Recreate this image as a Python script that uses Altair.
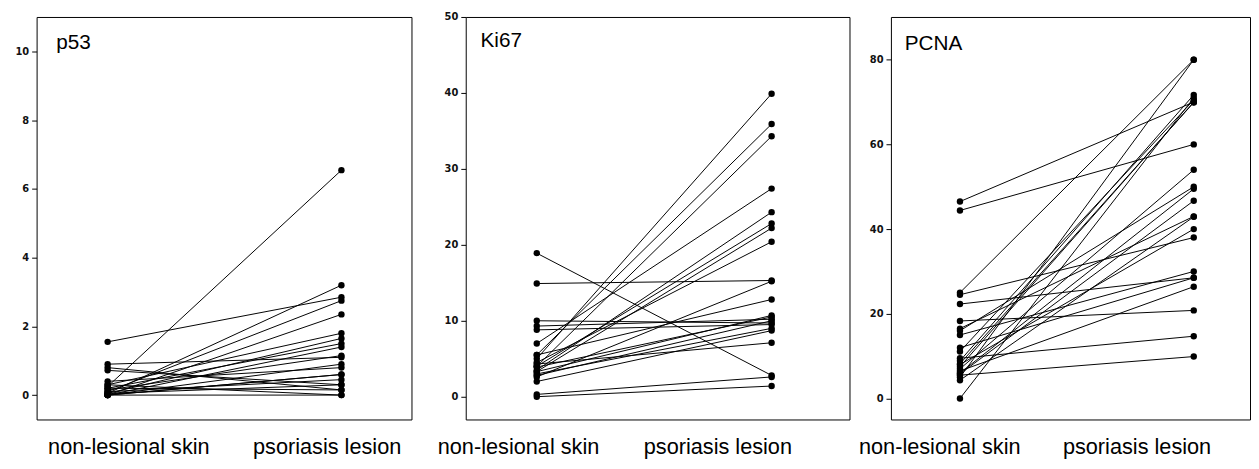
import altair as alt
import pandas as pd

groups = ["non-lesional skin", "psoriasis lesion"]

p53_nl = [1.55, 0.25, 0.9, 0.8, 0.72, 0.4, 0.3, 0.05, 0.1, 0.0, 0.05, 0.2, 0.0, 0.15, 0.0, 0.1, 0.0, 0.3, 0.05, 0.0, 0.2, 0.0]
p53_ls = [2.85, 6.55, 1.1, 0.15, 0.3, 0.8, 1.8, 3.2, 2.75, 2.35, 1.65, 1.5, 1.4, 1.15, 0.6, 0.45, 0.0, 0.0, 0.3, 0.9, 0.15, 0.6]

ki67_nl = [18.9, 14.9, 10.0, 9.3, 8.8, 0.3, 0.0, 5.0, 5.5, 4.0, 7.0, 3.5, 4.0, 3.3, 4.5, 2.6, 5.5, 3.3, 2.0, 4.3, 3.9, 2.8, 3.0]
ki67_ls = [2.8, 15.3, 9.7, 10.2, 9.5, 2.6, 1.4, 39.9, 35.9, 34.3, 27.4, 24.3, 22.8, 22.2, 20.4, 15.2, 12.8, 10.7, 8.7, 7.1, 10.5, 10.0, 9.0]

pcna_nl = [46.5, 44.4, 25.0, 24.5, 22.3, 18.3, 16.0, 15.0, 0.0, 5.0, 11.1, 8.9, 8.2, 7.0, 6.0, 5.8, 4.3, 8.0, 6.5, 9.5, 5.5, 12.0, 16.5, 7.5]
pcna_ls = [70.0, 60.0, 80.0, 38.0, 28.5, 20.8, 50.0, 30.0, 71.0, 80.0, 70.5, 71.7, 69.9, 54.0, 49.5, 46.7, 42.9, 40.0, 26.4, 14.7, 9.9, 28.5, 43.0, 70.0]

names = ["p53", "Ki67", "PCNA"]
y_domains = [[-0.71, 11.01], [-3.0, 50.0], [-4.96, 90.09]]
y_ticks = [[0, 2, 4, 6, 8, 10], [0, 10, 20, 30, 40, 50], [0, 20, 40, 60, 80]]

FONT = "Liberation Sans"


def long_df(nl, ls):
    rows = []
    for i, (a, b) in enumerate(zip(nl, ls)):
        rows.append({"pair": i, "group": groups[0], "value": a})
        rows.append({"pair": i, "group": groups[1], "value": b})
    return pd.DataFrame(rows)


def panel(name, nl, ls, ydom, yticks, width, pad, align, extent, off_nl, off_ls, tx, ty):
    df = long_df(nl, ls)
    x = alt.X(
        "group:N",
        scale=alt.Scale(type="point", domain=groups, padding=pad, align=align),
        axis=alt.Axis(
            title=None, ticks=False, domain=False, labelAngle=0,
            labelFont=FONT, labelFontSize=22, labelColor="black",
            labelPadding=18, labelBaseline="top",
            labelOffset={"condition": {"test": "datum.value === 'psoriasis lesion'", "value": off_ls}, "value": off_nl},
        ),
    )
    y = alt.Y(
        "value:Q",
        scale=alt.Scale(domain=ydom, nice=False, zero=False),
        axis=alt.Axis(
            title=None, values=yticks, grid=False, domain=False,
            tickSize=5, tickColor="black", labelFont="DejaVu Sans",
            labelFontSize=10, labelFontWeight="bold", labelColor="#111111", labelPadding=3,
            minExtent=extent, maxExtent=extent,
        ),
    )
    base = alt.Chart(df)
    lines = base.mark_line(color="black", strokeWidth=1).encode(x=x, y=y, detail="pair:N")
    pts = base.mark_circle(color="black", size=42, opacity=1).encode(x=x, y=y)
    ttl = alt.Chart(pd.DataFrame({"t": [name]})).mark_text(
        align="left", baseline="alphabetic", font=FONT, fontSize=21, color="black"
    ).encode(x=alt.value(tx), y=alt.value(ty), text="t:N")
    return alt.layer(lines, pts, ttl).properties(width=width, height=408)


c1 = panel(names[0], p53_nl, p53_ls, y_domains[0], y_ticks[0], 380, 0.3017, 0.5035, 28, 21, -15, 20, 32)
c2 = panel(names[1], ki67_nl, ki67_ls, y_domains[1], y_ticks[1], 389, 0.317, 0.477, 53, -19, -55, 15, 30)
c3 = panel(names[2], pcna_nl, pcna_ls, y_domains[2], y_ticks[2], 364, 0.268, 0.551, 40, -21, -58, 14, 33)

chart = alt.hconcat(c1, c2, c3, spacing=0).properties(
    padding={"left": 0, "top": 0, "right": 0, "bottom": 0},
    background="white",
).configure_view(stroke="black", strokeWidth=1)

chart.save("out.html", embed_options={"renderer": "svg", "actions": False})
